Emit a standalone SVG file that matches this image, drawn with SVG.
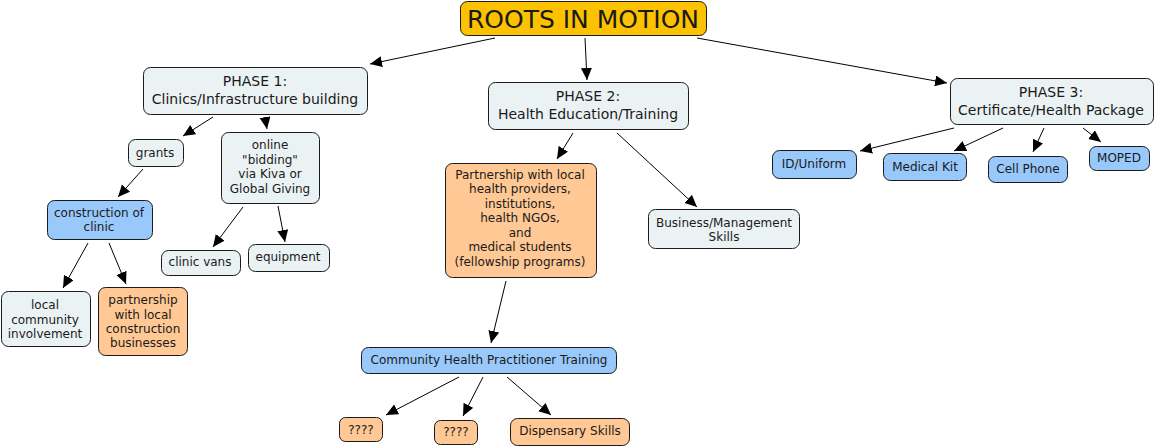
<svg xmlns="http://www.w3.org/2000/svg" width="1155" height="448" viewBox="0 0 1155 448">
<style>
rect{stroke:#1a1a1a;stroke-width:1}
.g{fill:#ebf2f4}.b{fill:#99c8fa}.o{fill:#ffc894}.y{fill:#fcc200}
text{font-family:"DejaVu Sans",Verdana,sans-serif;font-size:12px;fill:#1a1a1a;text-anchor:middle}
.p{font-size:14px}
.t{font-size:25px}
.c line{stroke:#000;stroke-width:1;marker-end:url(#ah)}
</style>
<defs>
<marker id="ah" markerUnits="userSpaceOnUse" markerWidth="14" markerHeight="12" refX="12" refY="5.5" orient="auto">
<path d="M0,0 L12,5.5 L0,11 Z" fill="#000"/>
</marker>
</defs>
<rect x="0" y="0" width="1155" height="448" fill="#fff" style="stroke:none"/>
<g class="c">
<line x1="495" y1="38" x2="370" y2="64"/>
<line x1="585" y1="38" x2="587" y2="80"/>
<line x1="697" y1="38" x2="947" y2="83"/>
<line x1="213" y1="117" x2="183" y2="136"/>
<line x1="265" y1="117" x2="267" y2="129"/>
<line x1="143" y1="169" x2="118" y2="197"/>
<line x1="88" y1="243" x2="63" y2="288"/>
<line x1="109" y1="243" x2="126" y2="284"/>
<line x1="243" y1="207" x2="213" y2="247"/>
<line x1="278" y1="206" x2="285" y2="242"/>
<line x1="573" y1="133" x2="557" y2="159"/>
<line x1="617" y1="133" x2="697" y2="207"/>
<line x1="506" y1="281" x2="491" y2="343"/>
<line x1="459" y1="377" x2="386" y2="415"/>
<line x1="483" y1="377" x2="463" y2="416"/>
<line x1="507" y1="377" x2="551" y2="415"/>
<line x1="954" y1="128" x2="860" y2="151"/>
<line x1="1003" y1="128" x2="954" y2="151"/>
<line x1="1044" y1="128" x2="1033" y2="152"/>
<line x1="1083" y1="128" x2="1101" y2="142"/>
</g>
<g id="root"><rect class="y" x="460.5" y="1.5" width="246" height="34" rx="7"/><text class="t" x="583" y="28">ROOTS IN MOTION</text></g>
<g id="phase1"><rect class="g" x="143.5" y="67.5" width="224" height="47" rx="7"/><text class="p" x="255" y="86">PHASE 1:</text><text class="p" x="255" y="104">Clinics/Infrastructure building</text></g>
<g id="phase2"><rect class="g" x="488.5" y="82.5" width="200" height="47" rx="7"/><text class="p" x="588" y="101">PHASE 2:</text><text class="p" x="588" y="119">Health Education/Training</text></g>
<g id="phase3"><rect class="g" x="950.5" y="78.5" width="203" height="46" rx="7"/><text class="p" x="1051" y="97">PHASE 3:</text><text class="p" x="1051" y="115">Certificate/Health Package</text></g>
<g id="grants"><rect class="g" x="128.5" y="139.5" width="55" height="27" rx="7"/><text x="155" y="157">grants</text></g>
<g id="online"><rect class="g" x="221.5" y="132.5" width="98" height="71" rx="7"/><text x="270" y="149">online</text><text x="270" y="164">"bidding"</text><text x="270" y="178">via Kiva or</text><text x="270" y="193">Global Giving</text></g>
<g id="construction"><rect class="b" x="47.5" y="200.5" width="105" height="39" rx="7"/><text x="99" y="217">construction of</text><text x="99" y="231">clinic</text></g>
<g id="vans"><rect class="g" x="161.5" y="250.5" width="79" height="25" rx="7"/><text x="200" y="266">clinic vans</text></g>
<g id="equipment"><rect class="g" x="248.5" y="244.5" width="81" height="27" rx="7"/><text x="288" y="261">equipment</text></g>
<g id="community"><rect class="g" x="1.5" y="291.5" width="89" height="55" rx="7"/><text x="45" y="309">local</text><text x="45" y="324">community</text><text x="45" y="338">involvement</text></g>
<g id="constr-partner"><rect class="o" x="98.5" y="287.5" width="89" height="68" rx="7"/><text x="143" y="304">partnership</text><text x="143" y="319">with local</text><text x="143" y="333">construction</text><text x="143" y="347">businesses</text></g>
<g id="health-partner"><rect class="o" x="445.5" y="163.5" width="151" height="114" rx="7"/><text x="520" y="179">Partnership with local</text><text x="520" y="193">health providers,</text><text x="520" y="208">institutions,</text><text x="520" y="222">health NGOs,</text><text x="520" y="237">and</text><text x="520" y="251">medical students</text><text x="520" y="266">(fellowship programs)</text></g>
<g id="business"><rect class="g" x="648.5" y="209.5" width="151" height="39" rx="7"/><text x="724" y="227">Business/Management</text><text x="724" y="241">Skills</text></g>
<g id="chpt"><rect class="b" x="361.5" y="347.5" width="255" height="26" rx="7"/><text x="489" y="364">Community Health Practitioner Training</text></g>
<g id="q1"><rect class="o" x="339.5" y="417.5" width="43" height="24" rx="6"/><text x="361" y="434">????</text></g>
<g id="q2"><rect class="o" x="434.5" y="420.5" width="43" height="24" rx="6"/><text x="456" y="436">????</text></g>
<g id="dispensary"><rect class="o" x="510.5" y="418.5" width="119" height="27" rx="7"/><text x="570" y="435">Dispensary Skills</text></g>
<g id="id"><rect class="b" x="772.5" y="150.5" width="84" height="28" rx="7"/><text x="814" y="168">ID/Uniform</text></g>
<g id="medkit"><rect class="b" x="883.5" y="153.5" width="83" height="27" rx="7"/><text x="925" y="171">Medical Kit</text></g>
<g id="cell"><rect class="b" x="988.5" y="156.5" width="79" height="26" rx="7"/><text x="1028" y="173">Cell Phone</text></g>
<g id="moped"><rect class="b" x="1089.5" y="146.5" width="60" height="24" rx="7"/><text x="1119" y="162">MOPED</text></g>
</svg>
